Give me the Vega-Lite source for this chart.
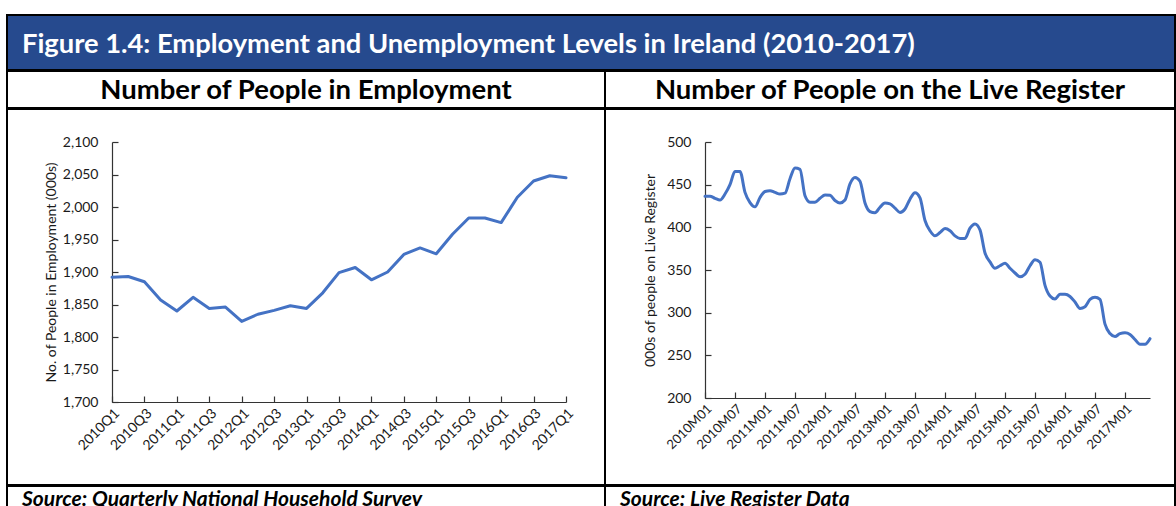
{
  "$schema": "https://vega.github.io/schema/vega-lite/v6.json",
  "padding": {"left": 6, "top": 14, "right": 0, "bottom": 0},
  "background": "white",
  "spacing": -2,
  "bounds": "full",
  "config": {
    "font": "Lato",
    "view": {"stroke": "#000", "strokeWidth": 2},
    "concat": {"spacing": 0},
    "axis": {
      "grid": false,
      "labelFont": "Lato",
      "labelFontSize": 14,
      "labelColor": "#1a1a1a",
      "titleFont": "Lato",
      "titleFontSize": 14,
      "titleFontWeight": "normal",
      "titleColor": "#1a1a1a",
      "domainColor": "#333",
      "domainWidth": 1.2,
      "tickColor": "#333",
      "tickWidth": 1.2
    }
  },
  "vconcat": [
    {
      "width": 1168,
      "height": 55,
      "view": {"fill": "#264A8E", "stroke": "#000", "strokeWidth": 2},
      "data": {"values": [{"t": "Figure 1.4: Employment and Unemployment Levels in Ireland (2010-2017)"}]},
      "mark": {"type": "text", "align": "left", "baseline": "middle", "font": "Lato", "fontWeight": "bold", "fontSize": 27.3, "color": "#ffffff", "dy": 2},
      "encoding": {"text": {"field": "t"}, "x": {"value": 15}}
    },
    {
      "hconcat": [
        {
          "width": 598,
          "height": 37,
          "view": {"stroke": "#000", "strokeWidth": 2},
          "data": {"values": [{"t": "Number of People in Employment"}]},
          "mark": {"type": "text", "align": "center", "baseline": "middle", "font": "Lato", "fontWeight": "bold", "fontSize": 27.5, "color": "#000", "dy": 1},
          "encoding": {"text": {"field": "t"}}
        },
        {
          "width": 570,
          "height": 37,
          "view": {"stroke": "#000", "strokeWidth": 2},
          "data": {"values": [{"t": "Number of People on the Live Register"}]},
          "mark": {"type": "text", "align": "center", "baseline": "middle", "font": "Lato", "fontWeight": "bold", "fontSize": 27.5, "color": "#000", "dy": 1},
          "encoding": {"text": {"field": "t"}}
        }
      ],
      "spacing": 0,
      "bounds": "flush"
    },
    {
      "hconcat": [
        {
          "width": 598,
          "height": 376,
          "view": {"stroke": "#000", "strokeWidth": 2},
          "data": {"values": [
            {"q": "2010Q1", "v": 1892}, {"q": "2010Q2", "v": 1893}, {"q": "2010Q3", "v": 1885}, {"q": "2010Q4", "v": 1857},
            {"q": "2011Q1", "v": 1840}, {"q": "2011Q2", "v": 1861}, {"q": "2011Q3", "v": 1844}, {"q": "2011Q4", "v": 1846},
            {"q": "2012Q1", "v": 1824}, {"q": "2012Q2", "v": 1835}, {"q": "2012Q3", "v": 1841}, {"q": "2012Q4", "v": 1848},
            {"q": "2013Q1", "v": 1844}, {"q": "2013Q2", "v": 1868}, {"q": "2013Q3", "v": 1899}, {"q": "2013Q4", "v": 1907},
            {"q": "2014Q1", "v": 1888}, {"q": "2014Q2", "v": 1900}, {"q": "2014Q3", "v": 1927}, {"q": "2014Q4", "v": 1937},
            {"q": "2015Q1", "v": 1928}, {"q": "2015Q2", "v": 1958}, {"q": "2015Q3", "v": 1983}, {"q": "2015Q4", "v": 1983},
            {"q": "2016Q1", "v": 1976}, {"q": "2016Q2", "v": 2015}, {"q": "2016Q3", "v": 2040}, {"q": "2016Q4", "v": 2048},
            {"q": "2017Q1", "v": 2045}
          ]},
          "mark": {"type": "line", "color": "#4472C4", "strokeWidth": 3, "strokeCap": "round", "strokeJoin": "round"},
          "encoding": {
            "x": {
              "field": "q", "type": "ordinal", "sort": null,
              "scale": {"type": "point", "range": [105, 559], "padding": 0},
              "axis": {
                "title": null, "orient": "bottom", "offset": -83,
                "values": ["2010Q1","2010Q3","2011Q1","2011Q3","2012Q1","2012Q3","2013Q1","2013Q3","2014Q1","2014Q3","2015Q1","2015Q3","2016Q1","2016Q3","2017Q1"],
                "labelAngle": -45, "labelAlign": "right", "labelBaseline": "top", "labelFontSize": 14,
                "tickSize": -6, "labelPadding": 10
              }
            },
            "y": {
              "field": "v", "type": "quantitative",
              "scale": {"domain": [1700, 2100], "range": [293, 33], "zero": false, "nice": false},
              "axis": {
                "title": "No. of People in Employment  (000s)", "offset": -105,
                "values": [1700, 1750, 1800, 1850, 1900, 1950, 2000, 2050, 2100], "format": ",.0f",
                "tickSize": -6, "labelPadding": 20, "titlePadding": 4
              }
            }
          }
        },
        {
          "width": 570,
          "height": 376,
          "view": {"stroke": "#000", "strokeWidth": 2},
          "data": {"values": [
            {"m": "2010M01", "v": 436.5}, {"m": "2010M02", "v": 436.5}, {"m": "2010M03", "v": 434}, {"m": "2010M04", "v": 432}, {"m": "2010M05", "v": 439}, {"m": "2010M06", "v": 450}, {"m": "2010M07", "v": 465.5}, {"m": "2010M08", "v": 465.5}, {"m": "2010M09", "v": 441}, {"m": "2010M10", "v": 429}, {"m": "2010M11", "v": 424}, {"m": "2010M12", "v": 435},
            {"m": "2011M01", "v": 442}, {"m": "2011M02", "v": 443}, {"m": "2011M03", "v": 441}, {"m": "2011M04", "v": 439}, {"m": "2011M05", "v": 440}, {"m": "2011M06", "v": 457}, {"m": "2011M07", "v": 469.5}, {"m": "2011M08", "v": 468}, {"m": "2011M09", "v": 437}, {"m": "2011M10", "v": 429.5}, {"m": "2011M11", "v": 429.5}, {"m": "2011M12", "v": 434},
            {"m": "2012M01", "v": 438}, {"m": "2012M02", "v": 437.5}, {"m": "2012M03", "v": 431.5}, {"m": "2012M04", "v": 428.5}, {"m": "2012M05", "v": 432}, {"m": "2012M06", "v": 451}, {"m": "2012M07", "v": 458.5}, {"m": "2012M08", "v": 454}, {"m": "2012M09", "v": 428.5}, {"m": "2012M10", "v": 418.5}, {"m": "2012M11", "v": 417}, {"m": "2012M12", "v": 423.5},
            {"m": "2013M01", "v": 428.5}, {"m": "2013M02", "v": 427.5}, {"m": "2013M03", "v": 422.5}, {"m": "2013M04", "v": 417.5}, {"m": "2013M05", "v": 421.5}, {"m": "2013M06", "v": 433}, {"m": "2013M07", "v": 440.5}, {"m": "2013M08", "v": 434.5}, {"m": "2013M09", "v": 408}, {"m": "2013M10", "v": 396}, {"m": "2013M11", "v": 390}, {"m": "2013M12", "v": 394},
            {"m": "2014M01", "v": 398.5}, {"m": "2014M02", "v": 396}, {"m": "2014M03", "v": 390}, {"m": "2014M04", "v": 387}, {"m": "2014M05", "v": 387}, {"m": "2014M06", "v": 399}, {"m": "2014M07", "v": 404}, {"m": "2014M08", "v": 397}, {"m": "2014M09", "v": 370}, {"m": "2014M10", "v": 359.5}, {"m": "2014M11", "v": 352}, {"m": "2014M12", "v": 355},
            {"m": "2015M01", "v": 358}, {"m": "2015M02", "v": 352}, {"m": "2015M03", "v": 346.5}, {"m": "2015M04", "v": 342}, {"m": "2015M05", "v": 345}, {"m": "2015M06", "v": 355}, {"m": "2015M07", "v": 362}, {"m": "2015M08", "v": 359}, {"m": "2015M09", "v": 332}, {"m": "2015M10", "v": 319.5}, {"m": "2015M11", "v": 316}, {"m": "2015M12", "v": 321.5},
            {"m": "2016M01", "v": 321.5}, {"m": "2016M02", "v": 319}, {"m": "2016M03", "v": 312.5}, {"m": "2016M04", "v": 305}, {"m": "2016M05", "v": 307}, {"m": "2016M06", "v": 315.5}, {"m": "2016M07", "v": 318}, {"m": "2016M08", "v": 315.5}, {"m": "2016M09", "v": 286.5}, {"m": "2016M10", "v": 275.5}, {"m": "2016M11", "v": 272}, {"m": "2016M12", "v": 275.5},
            {"m": "2017M01", "v": 276.5}, {"m": "2017M02", "v": 274.5}, {"m": "2017M03", "v": 268.5}, {"m": "2017M04", "v": 263}, {"m": "2017M05", "v": 263}, {"m": "2017M06", "v": 269.5}
          ]},
          "mark": {"type": "line", "color": "#4472C4", "strokeWidth": 3, "interpolate": "monotone", "strokeCap": "round", "strokeJoin": "round"},
          "encoding": {
            "x": {
              "field": "m", "type": "ordinal", "sort": null,
              "scale": {"type": "point", "range": [100, 545], "padding": 0},
              "axis": {
                "title": null, "orient": "bottom", "offset": -87,
                "values": ["2010M01","2010M07","2011M01","2011M07","2012M01","2012M07","2013M01","2013M07","2014M01","2014M07","2015M01","2015M07","2016M01","2016M07","2017M01"],
                "labelAngle": -45, "labelAlign": "right", "labelBaseline": "top", "labelFontSize": 13,
                "tickSize": -6, "labelPadding": 10
              }
            },
            "y": {
              "field": "v", "type": "quantitative",
              "scale": {"domain": [200, 500], "range": [289, 33], "zero": false, "nice": false},
              "axis": {
                "title": "000s of people on Live Register", "offset": -100,
                "values": [200, 250, 300, 350, 400, 450, 500],
                "tickSize": -6, "labelPadding": 20, "titlePadding": 9
              }
            }
          }
        }
      ],
      "spacing": 0,
      "bounds": "flush"
    },
    {
      "hconcat": [
        {
          "width": 598,
          "height": 22,
          "view": {"stroke": "#000", "strokeWidth": 2},
          "data": {"values": [{"t": "Source: Quarterly National Household Survey"}]},
          "mark": {"type": "text", "align": "left", "baseline": "middle", "font": "Lato", "fontWeight": "bold", "fontStyle": "italic", "fontSize": 21, "color": "#000", "dy": 3},
          "encoding": {"text": {"field": "t"}, "x": {"value": 15}}
        },
        {
          "width": 570,
          "height": 22,
          "view": {"stroke": "#000", "strokeWidth": 2},
          "data": {"values": [{"t": "Source: Live Register Data"}]},
          "mark": {"type": "text", "align": "left", "baseline": "middle", "font": "Lato", "fontWeight": "bold", "fontStyle": "italic", "fontSize": 21, "color": "#000", "dy": 3},
          "encoding": {"text": {"field": "t"}, "x": {"value": 15}}
        }
      ],
      "spacing": 0,
      "bounds": "flush"
    }
  ]
}
